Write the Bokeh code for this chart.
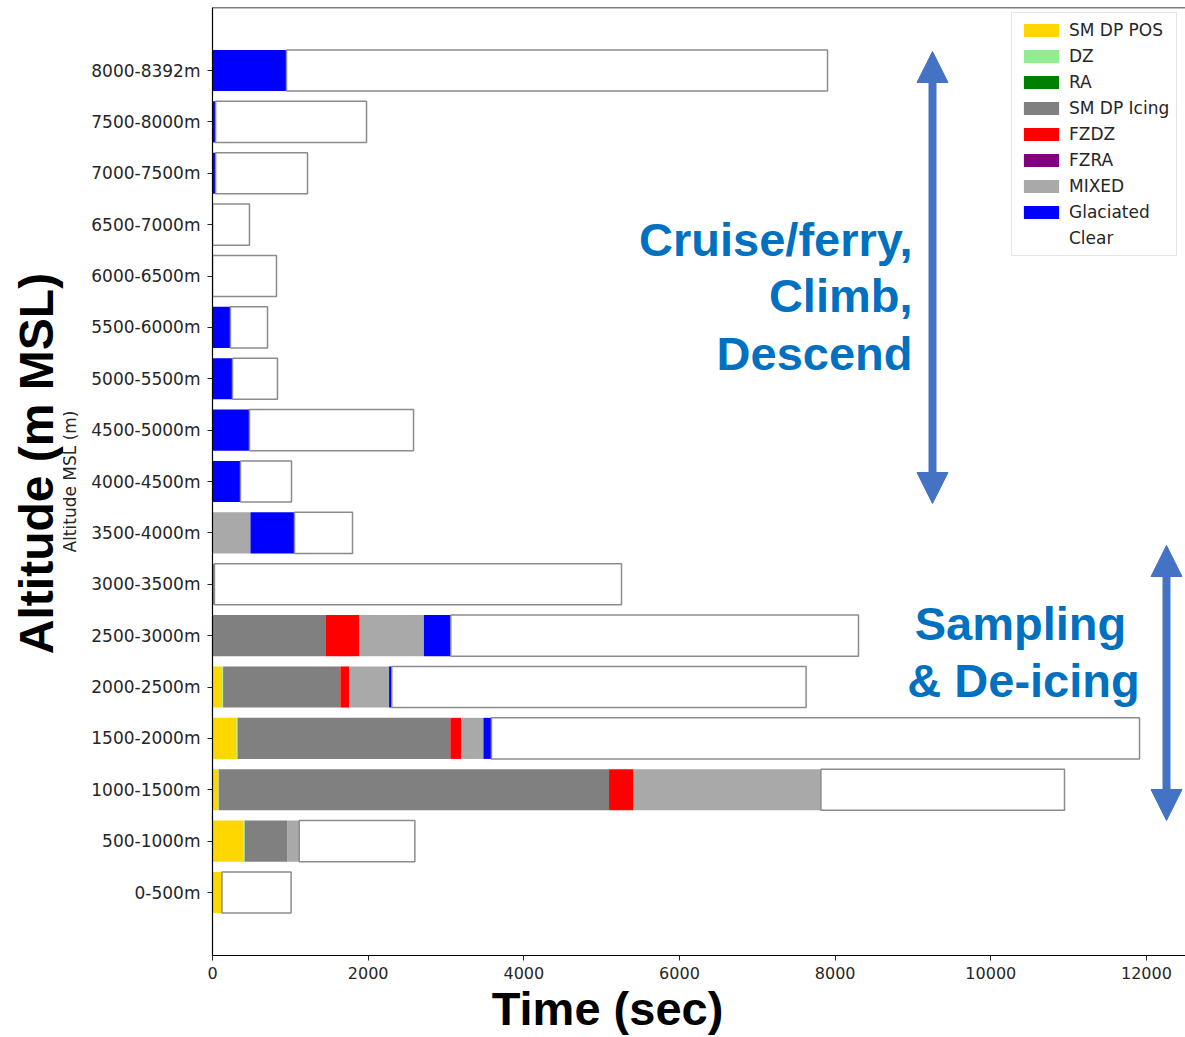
import numpy as np
from bokeh.plotting import figure
from bokeh.models import (Range1d, FixedTicker, Legend, LegendItem, Label, Arrow,
                          NormalHead, Span)
from bokeh.embed import file_html
from bokeh.resources import INLINE

# ---------------- data (bottom -> top) ----------------
categories = ["0-500m", "500-1000m", "1000-1500m", "1500-2000m", "2000-2500m",
              "2500-3000m", "3000-3500m", "3500-4000m", "4000-4500m", "4500-5000m",
              "5000-5500m", "5500-6000m", "6000-6500m", "6500-7000m", "7000-7500m",
              "7500-8000m", "8000-8392m"]

sm_dp_pos   = [121, 402, 75, 310, 126, 6, 0, 0, 0, 0, 0, 0, 0, 0, 0, 0, 0]
dz          = [0, 12, 5, 12, 10, 0, 0, 0, 0, 0, 0, 0, 0, 0, 0, 0, 0]
ra          = [0, 0, 0, 0, 0, 0, 0, 0, 0, 0, 0, 0, 0, 0, 0, 0, 0]
sm_dp_icing = [0, 551, 5015, 2734, 1507, 1452, 25, 0, 0, 0, 0, 0, 0, 0, 0, 0, 0]
fzdz        = [0, 0, 316, 137, 115, 431, 0, 0, 0, 0, 0, 0, 0, 0, 0, 0, 0]
fzra        = [0, 0, 0, 0, 0, 0, 0, 0, 0, 0, 0, 0, 0, 0, 0, 0, 0]
mixed       = [0, 149, 2406, 288, 511, 827, 0, 488, 0, 0, 0, 0, 0, 0, 0, 0, 0]
glaciated   = [0, 0, 0, 103, 34, 346, 0, 566, 360, 475, 257, 231, 0, 0, 40, 40, 951]
clear       = [889, 1486, 3130, 8327, 5324, 5238, 5230, 745, 655, 2108, 578, 476, 822, 475, 1181, 1939, 6951]

series_names = ["SM DP POS", "DZ", "RA", "SM DP Icing", "FZDZ", "FZRA", "MIXED", "Glaciated", "Clear"]
series_vals = [sm_dp_pos, dz, ra, sm_dp_icing, fzdz, fzra, mixed, glaciated, clear]
series_colors = ["#FFD700", "#90EE90", "#008000", "#808080", "#FF0000", "#800080",
                 "#A9A9A9", "#0000FF", "#FFFFFF"]

x_ticks = [0, 2000, 4000, 6000, 8000, 10000, 12000]

# ---------------- layout constants ----------------
W, H = 1185, 1037
ML, MT, MB = 212, 7, 82
PX_PER_SEC = 0.07783
ROW_PX = 51.375
frame_w = W - ML
frame_h = H - MB - MT
x_end = frame_w / PX_PER_SEC
y_start = -(955 - 892) / ROW_PX
y_end = y_start + frame_h / ROW_PX

# page pixel -> data helpers (for annotations only)
def ax(px):
    return (px - ML) / PX_PER_SEC

def ay(py):
    return (892 - py) / ROW_PX

p = figure(width=W, height=H, output_backend="svg", toolbar_location=None,
           x_range=Range1d(0, x_end), y_range=Range1d(y_start, y_end),
           min_border_left=ML, min_border_right=0, min_border_top=MT, min_border_bottom=MB)
p.xgrid.visible = False
p.ygrid.visible = False
p.outline_line_color = None
p.background_fill_color = "white"
p.border_fill_color = "white"

ypos = np.arange(len(categories))
left = np.zeros(len(categories))
renderers = {}
for name, vals, col in zip(series_names, series_vals, series_colors):
    v = np.array(vals, dtype=float)
    right = left + v
    if name == "Clear":
        r = p.hbar(y=ypos, left=left, right=right, height=0.8,
                   fill_color=col, line_color="#8c8c8c", line_width=1.5)
    else:
        r = p.hbar(y=ypos, left=left, right=right, height=0.8,
                   fill_color=col, line_color=None)
    renderers[name] = r
    left = right

# legend (Clear shows no swatch, as in the original)
clear_proxy = p.hbar(y=[], left=[], right=[], height=0.8, fill_color="white",
                     fill_alpha=0, line_color=None)
legend_items = []
for name in series_names:
    r = clear_proxy if name == "Clear" else renderers[name]
    legend_items.append(LegendItem(label=name, renderers=[r]))

legend = Legend(items=legend_items, location=(799, 699), glyph_width=44, glyph_height=16,
                label_height=20, spacing=6, padding=7, label_standoff=6, margin=0,
                label_text_font="DejaVu Sans", label_text_font_size="17px",
                label_text_color="#262626", border_line_color="#cccccc",
                border_line_width=1, background_fill_color="white", background_fill_alpha=0.9)
p.add_layout(legend)

# axes
p.yaxis.ticker = FixedTicker(ticks=list(ypos))
p.yaxis.major_label_overrides = {int(i): c for i, c in zip(ypos, categories)}
p.xaxis.ticker = FixedTicker(ticks=x_ticks)
for axis in (p.xaxis[0], p.yaxis[0]):
    axis.major_label_text_font = "DejaVu Sans"
    axis.major_label_text_color = "#262626"
    axis.axis_line_color = "black"
    axis.axis_line_width = 1.2
    axis.major_tick_line_color = "#262626"
    axis.major_tick_out = 5
    axis.major_tick_in = 0
    axis.minor_tick_line_color = None
p.xaxis.major_label_text_font_size = "16px"
p.xaxis.major_label_standoff = 6

p.yaxis.major_label_text_font_size = "17px"
p.yaxis.major_label_standoff = 7
p.yaxis.axis_label = "Altitude MSL (m)"
p.yaxis.axis_label_text_font = "DejaVu Sans"
p.yaxis.axis_label_text_font_style = "normal"
p.yaxis.axis_label_text_font_size = "17px"
p.yaxis.axis_label_text_color = "#262626"
p.yaxis.axis_label_standoff = 8

# top border of frame
p.add_layout(Span(location=y_end, dimension="width", line_color="black", line_width=1.5))

BLUE = "#0070C0"
ARROW = "#4472C4"
FONT = "Liberation Sans"
DY = -17  # baseline correction

def big_label(text, px, py, align, color, size="47px", angle=0.0, baseline="alphabetic",
              bg=None, pad=0, place=None):
    kw = dict(x=ax(px), y=ay(py), text=text, text_align=align, text_baseline=baseline,
              text_font=FONT, text_font_style="bold", text_font_size=size, text_color=color,
              angle=angle)
    if bg is not None:
        kw.update(background_fill_color=bg, padding=pad)
    lab = Label(**kw)
    if place is None:
        p.add_layout(lab)
    else:
        p.add_layout(lab, place)

big_label("Cruise/ferry,", 912, 256 + DY, "right", BLUE)
big_label("Climb,", 912, 312 + DY, "right", BLUE)
big_label("Descend", 912, 370 + DY, "right", BLUE)
big_label("Sampling", 1020, 640 + DY, "center", BLUE)
big_label("& De-icing", 1023, 697 + DY, "center", BLUE)
big_label("Time (sec)", 607, 1025 + DY, "center", "black", place="below")
big_label("Altitude (m MSL)", 36, 463, "center", "black", size="48px", angle=np.pi / 2,
          baseline="middle", bg="white", pad=0, place="left")

for (xi, y0, y1) in [(932, 51, 503), (1166, 545, 820)]:
    p.add_layout(Arrow(x_start=ax(xi), y_start=ay(y1), x_end=ax(xi), y_end=ay(y0),
                       start=NormalHead(size=31, fill_color=ARROW, line_color=ARROW),
                       end=NormalHead(size=31, fill_color=ARROW, line_color=ARROW),
                       line_color=ARROW, line_width=8))

open("out.html", "w").write(file_html(p, INLINE))
